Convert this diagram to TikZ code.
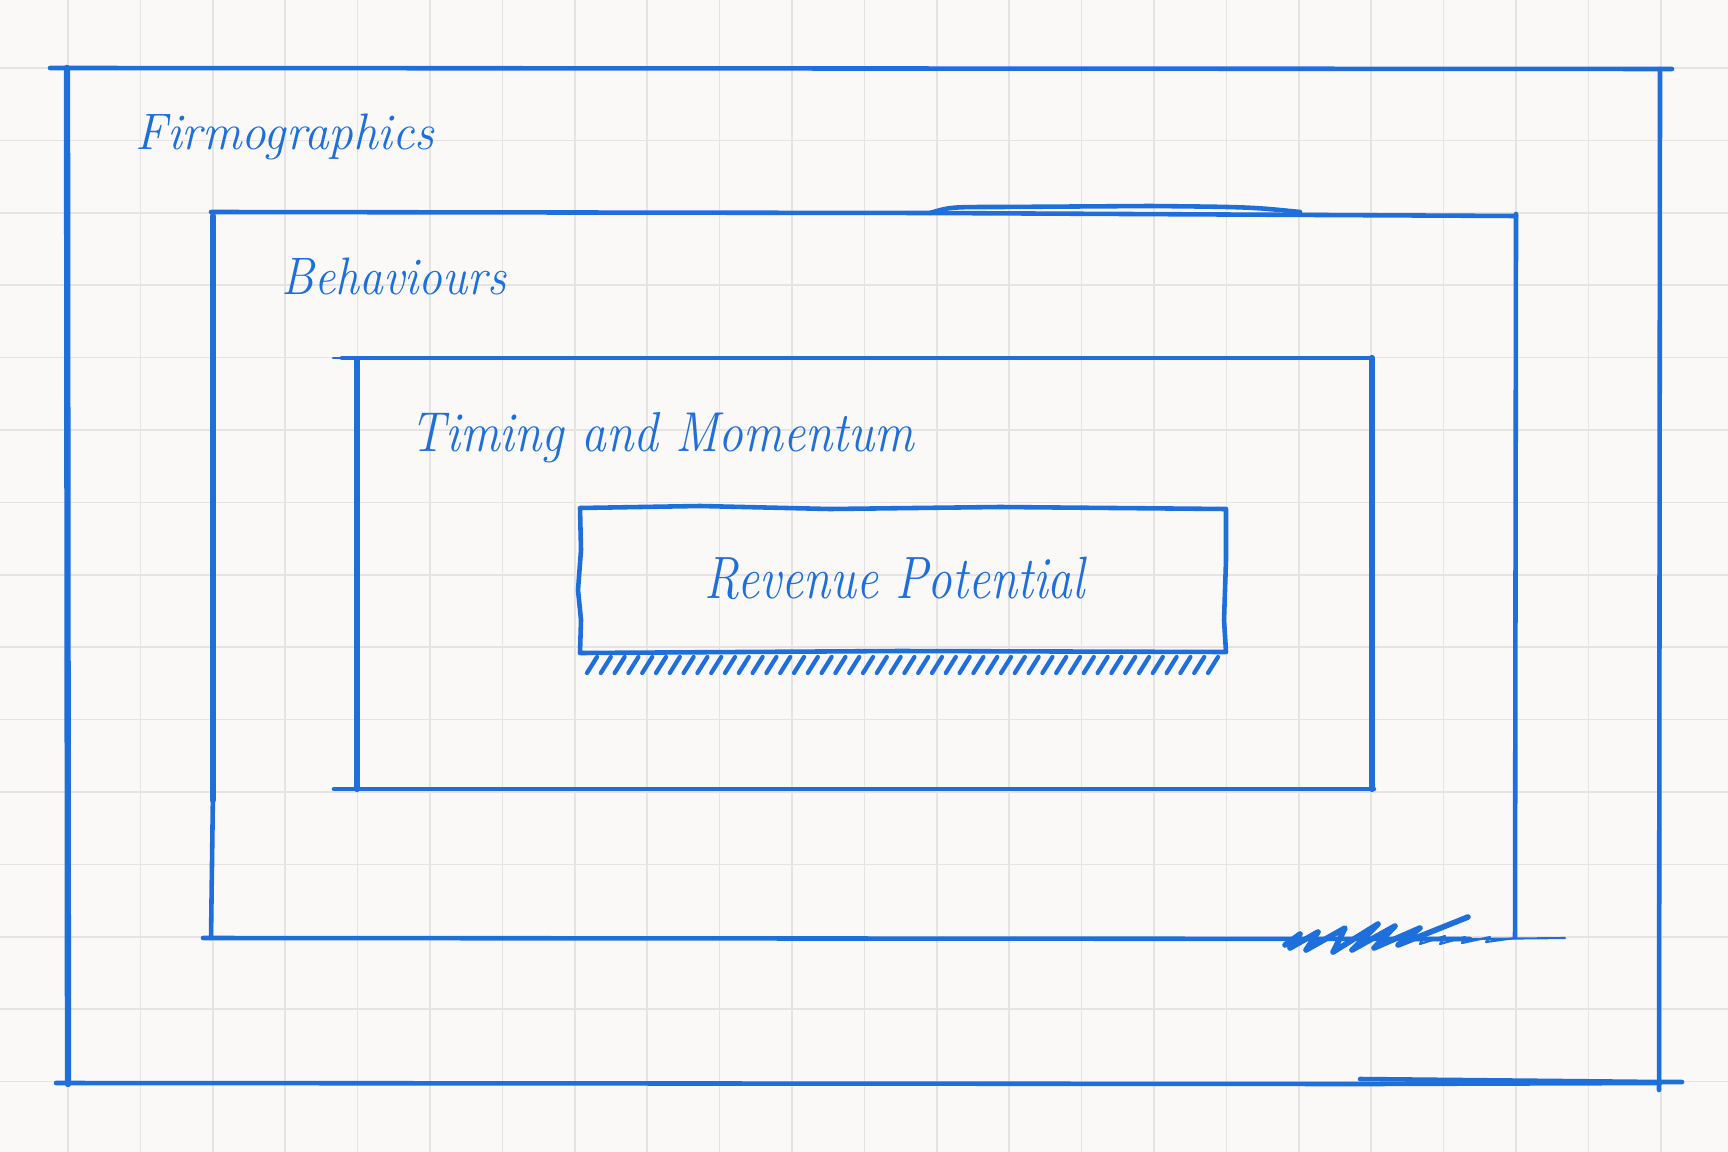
\documentclass[tikz,border=0pt]{standalone}
\definecolor{ink}{RGB}{30,111,220}
\definecolor{paper}{RGB}{250,249,247}
\definecolor{gridline}{RGB}{229,228,226}
\begin{document}
\begin{tikzpicture}[x=0.01cm,y=-0.01cm,
  pen/.style={ink,line width=1.3pt,line cap=round,line join=round},
  thickpen/.style={ink,line width=1.8pt,line cap=round},
  thinpen/.style={ink,line width=0.6pt,line cap=round,line join=round},
  hand/.style={ink,anchor=base west,inner sep=0pt}]
\def\s{72.4} \def\o{68}
\fill[paper] (0,0) rectangle (1728,1152);
\useasboundingbox (0,0) rectangle (1728,1152);
\foreach \i in {0,...,22} \draw[gridline,line width=0.45pt] ({\o+\i*\s},0) -- ({\o+\i*\s},1152);
\foreach \j in {0,...,14} \draw[gridline,line width=0.45pt] (0,{\o+\j*\s}) -- (1728,{\o+\j*\s});

% Firmographics
\draw[pen] (50,68) -- (1672,69);
\draw[thickpen] (67,68) -- (68,1084);
\draw[pen] (56,1083) -- (1370,1084) -- (1660,1083);
\draw[pen] (1360,1079) -- (1660,1082) -- (1682,1082);
\draw[pen] (1660,69) -- (1659,1090);

% Behaviours
\draw[pen] (211,212) -- (930,213) -- (1516,216);
\draw[pen] (930,213) .. controls (950,207) .. (1000,207) -- (1150,206) .. controls (1250,207) .. (1300,212);
\draw[thickpen] (213,216) -- (213,800);
\draw[pen] (213,790) -- (211,938);
\draw[pen] (203,938) -- (1470,939);
\draw[thinpen] (1470,939) -- (1565,938);
\draw[pen] (1516,214) -- (1515,937);
\draw[pen,line width=1.6pt] (1285,945) -- (1300,934) -- (1290,948) -- (1318,932) -- (1306,950) -- (1345,928)
  -- (1333,952) -- (1378,924) -- (1352,950) -- (1395,926) -- (1374,948) -- (1420,928) -- (1398,945) -- (1468,917);
\draw[thinpen] (1400,945) -- (1425,934) -- (1420,944) -- (1445,936) -- (1440,944) -- (1465,937) -- (1462,943)
  -- (1490,937) -- (1486,942) -- (1515,938);

% Timing and Momentum
\draw[thinpen] (333,358) -- (345,358);
\draw[pen] (342,358) -- (1372,358);
\draw[thickpen] (357,360) -- (357,789);
\draw[pen] (334,789) -- (1374,789);
\draw[thickpen] (1372,358) -- (1372,789);

% Revenue Potential
\draw[pen] (580,508) -- (700,506) -- (830,509) -- (1000,507) -- (1226,509) -- (1226,560) -- (1224,620)
  -- (1226,652) -- (900,651) -- (580,653) -- (581,620) -- (578,590) -- (581,550) -- cycle;
\foreach \x in {0,...,45} \draw[pen,line width=1.2pt] ({587+\x*13.8},673) -- ++(10,-16);

\node[hand,xscale=0.96,font=\itshape\fontsize{14.6}{17}\selectfont] (firmo) at (135,150) {Firmographics};
\node[hand,xscale=0.9,font=\itshape\fontsize{15}{18}\selectfont] (behav) at (281,295) {Behaviours};
\node[hand,xscale=0.88,font=\itshape\fontsize{16}{19}\selectfont] (timing) at (410,451) {Timing and Momentum};
\node[hand,xscale=0.82,font=\itshape\fontsize{17}{20}\selectfont] (revenue) at (704,598) {Revenue Potential};
\end{tikzpicture}
\end{document}
